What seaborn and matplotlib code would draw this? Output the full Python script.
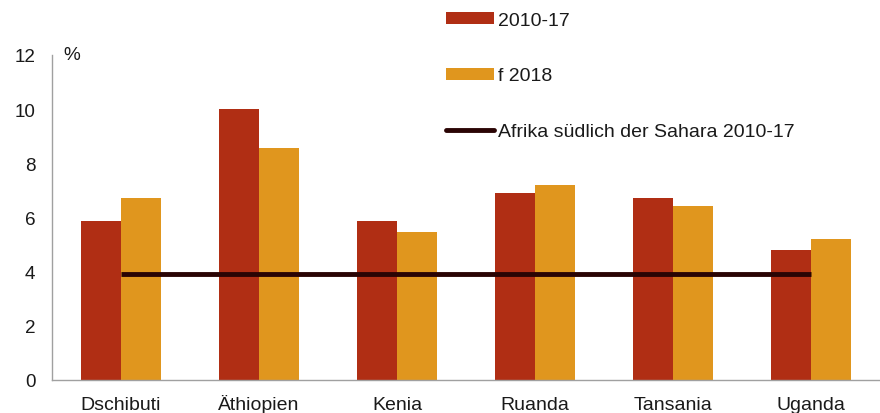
import matplotlib
matplotlib.use("Agg")
import matplotlib.pyplot as plt
from matplotlib.patches import Patch
from matplotlib.lines import Line2D
import pandas as pd
import seaborn as sns

countries = ["Dschibuti", "Äthiopien", "Kenia", "Ruanda", "Tansania", "Uganda"]
growth_2010_17 = [5.85, 10.0, 5.85, 6.9, 6.7, 4.8]
growth_2018 = [6.7, 8.55, 5.45, 7.2, 6.4, 5.2]
ssa_average = 3.9
series_names = ["2010-17", "f 2018"]
avg_label = "Afrika südlich der Sahara 2010-17"
y_ticks = [0, 2, 4, 6, 8, 10, 12]

red = "#B02E14"
orange = "#E0961E"
dark = "#2A0404"
text_color = "#1a1a1a"

df = pd.DataFrame({
    "Land": countries * 2,
    "Wert": growth_2010_17 + growth_2018,
    "Reihe": [series_names[0]] * len(countries) + [series_names[1]] * len(countries),
})

sns.set_theme(style="white")
plt.rcParams["font.family"] = ["Liberation Sans", "DejaVu Sans"]

fig = plt.figure(figsize=(8.8, 4.14), dpi=100)
ax = fig.add_axes([52 / 880, 33.5 / 414, 1 - 52 / 880, (380.5 - 56) / 414])

sns.barplot(data=df, x="Land", y="Wert", hue="Reihe", order=countries,
            hue_order=series_names, palette=[red, orange], width=0.58,
            saturation=1, edgecolor="none", linewidth=0, legend=False, ax=ax)

ax.hlines(ssa_average, 0, len(countries) - 1, color=dark, linewidth=3.5, zorder=5)

ax.set_xlim(-0.5, len(countries) - 0.5)
ax.set_ylim(0, 12)
ax.set_yticks(y_ticks)
ax.set_xlabel("")
ax.set_ylabel("")
ax.tick_params(axis="y", length=0, labelsize=13.6, colors=text_color, pad=12)
ax.tick_params(axis="x", length=0, labelsize=14, colors=text_color, pad=21.6)
plt.setp(ax.get_xticklabels(), va="baseline")
for side in ("top", "right"):
    ax.spines[side].set_visible(False)
for side in ("left", "bottom"):
    ax.spines[side].set_color("#A0A0A0")
    ax.spines[side].set_linewidth(1.0)

ax.text(0.014, 12, "%", transform=ax.get_yaxis_transform(), ha="left", va="center",
        fontsize=13.6, color=text_color)

handles = [
    Patch(facecolor=red, edgecolor="none"),
    Patch(facecolor=orange, edgecolor="none"),
    Line2D([0], [0], color=dark, linewidth=3.5),
]
fig.legend(handles, series_names + [avg_label], loc="upper left",
           bbox_to_anchor=(428.5 / 880, 1.012), frameon=False, fontsize=14,
           labelspacing=2.0, handlelength=2.47, handleheight=0.57,
           handletextpad=0.2, labelcolor=text_color)

fig.savefig("out.png", dpi=100)
